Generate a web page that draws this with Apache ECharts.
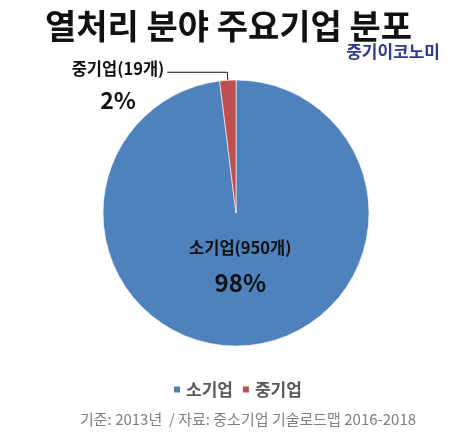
<!DOCTYPE html>
<html>
<head>
<meta charset="utf-8">
<script src="https://cdn.jsdelivr.net/npm/echarts@6/dist/echarts.min.js"></script>
<style>
  html, body { margin: 0; padding: 0; background: #ffffff; }
  #chart { width: 457px; height: 433px; }
</style>
</head>
<body>
<div id="chart"></div>
<script>
// 열처리 분야 기업 규모별 분포 (2013년 기준)
const categories = ['소기업', '중기업'];
const companyCounts = [950, 19];
const sliceColors = ['#4F81BD', '#C0504D'];

const FONT = '"Noto Sans CJK KR", "Noto Sans", sans-serif';

const total = companyCounts.reduce((a, b) => a + b, 0);
const labelText = p => '{n|' + p.name + '(' + p.value + '개)}\n{p|' + Math.round(p.value / total * 100) + '%}';

const pieData = categories.map((name, i) => {
  const item = {
    name: name,
    value: companyCounts[i],
    itemStyle: { color: sliceColors[i] }
  };
  if (i === 0) {
    item.label = {
      position: 'inside',
      padding: [0, 0, 34, 0],
      formatter: labelText,
      rich: {
        n: { fontFamily: FONT, fontSize: 16.5, fontWeight: 'bold', color: '#111', lineHeight: 35, align: 'center' },
        p: { fontFamily: FONT, fontSize: 24, fontWeight: 'bold', color: '#111', lineHeight: 35, align: 'center' }
      }
    };
  } else {
    item.label = {
      position: 'outside',
      padding: [24, 0, 0, 0],
      distanceToLabelLine: 3,
      formatter: labelText,
      rich: {
        n: { fontFamily: FONT, fontSize: 16.5, fontWeight: 'bold', color: '#111', lineHeight: 32, align: 'center' },
        p: { fontFamily: FONT, fontSize: 23, fontWeight: 'bold', color: '#111', lineHeight: 32, align: 'center' }
      }
    };
    item.labelLine = {
      show: true,
      length: 8,
      length2: 60,
      lineStyle: { color: '#111', width: 1 }
    };
  }
  return item;
});

const chart = echarts.init(document.getElementById('chart'), null, { renderer: 'canvas' });

chart.setOption({
  backgroundColor: '#ffffff',
  animation: false,
  title: [
    {
      text: '열처리 분야 주요기업 분포',
      left: 'center',
      top: 4,
      textStyle: { fontFamily: FONT, fontSize: 34, fontWeight: 'bold', color: '#111' }
    },
    {
      text: '중기이코노미',
      right: 12,
      top: 38,
      textStyle: { fontFamily: FONT, fontSize: 17, fontWeight: 'bold', color: '#2E3A8C' }
    },
    {
      text: '기준: 2013년  / 자료: 중소기업 기술로드맵 2016-2018',
      left: 75,
      top: 407,
      textStyle: { fontFamily: FONT, fontSize: 15, fontWeight: 'normal', color: '#7F7F7F' }
    }
  ],
  legend: {
    data: categories,
    top: 376,
    left: 167,
    icon: 'rect',
    itemWidth: 8,
    itemHeight: 8,
    itemGap: 8,
    textStyle: { fontFamily: FONT, fontSize: 17, fontWeight: 'bold', color: '#595959' }
  },
  series: [
    {
      type: 'pie',
      center: [236, 213],
      radius: 133,
      startAngle: 90,
      clockwise: true,
      avoidLabelOverlap: false,
      itemStyle: { borderColor: '#ffffff', borderWidth: 0.6 },
      emphasis: { disabled: true },
      data: pieData
    }
  ]
});
</script>
</body>
</html>
